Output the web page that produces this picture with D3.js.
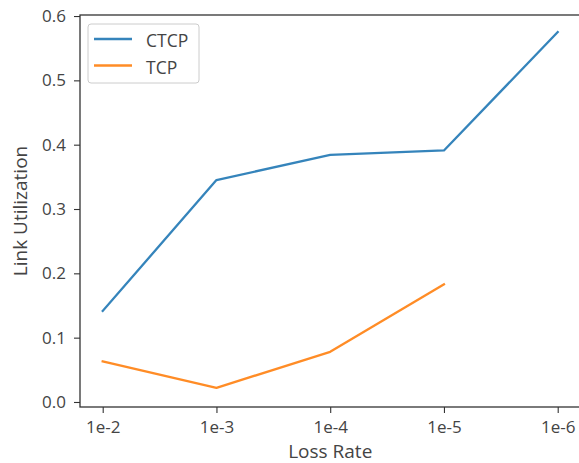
<!DOCTYPE html>
<html>
<head>
<meta charset="utf-8">
<script src="https://cdn.jsdelivr.net/npm/d3@7"></script>
<style>
  html, body { margin: 0; padding: 0; background: #fff; }
  svg { display: block; font-family: "Open Sans", sans-serif; }
</style>
</head>
<body>
<svg id="chart" width="579" height="463"></svg>
<script>
const categories = ["1e-2", "1e-3", "1e-4", "1e-5", "1e-6"];
const ctcpValues = [0.1415, 0.345, 0.384, 0.391, 0.575];
const tcpValues = [0.063, 0.022, 0.078, 0.183, null];
const yTicks = [0.0, 0.1, 0.2, 0.3, 0.4, 0.5, 0.6];
const seriesNames = ["CTCP", "TCP"];
const seriesColors = ["#1f77b4", "#ff7f0e"];

const svg = d3.select("#chart");
const mLeft = 80, mRight = 580.5, mTop = 15, mBottom = 407;
const tickFont = 17, labelFont = 19, legendFont = 17.5;
const fontFam = "Open Sans";

const x = d3.scalePoint().domain(categories).range([102.7, 557.7]);
const y = d3.scaleLinear().domain([-0.0078, 0.6016]).range([mBottom, mTop]);

// lines
const line = d3.line()
  .defined(d => d.v !== null)
  .x(d => x(d.c))
  .y(d => y(d.v));

const series = [ctcpValues, tcpValues];
series.forEach((vals, i) => {
  svg.append("path")
    .datum(categories.map((c, j) => ({c, v: vals[j]})))
    .attr("fill", "none")
    .attr("stroke", seriesColors[i])
    .attr("stroke-opacity", 0.9)
    .attr("stroke-width", 2.3)
    .attr("stroke-linejoin", "round")
    .attr("stroke-linecap", "square")
    .attr("d", line);
});

// axes
const yAxis = d3.axisLeft(y).tickValues(yTicks).tickFormat(d3.format(".1f")).tickSize(6).tickPadding(8);
const xAxis = d3.axisBottom(x).tickSize(6).tickPadding(7.5);

const gy = svg.append("g").attr("transform", `translate(${mLeft},0)`).call(yAxis);
const gx = svg.append("g").attr("transform", `translate(0,${mBottom})`).call(xAxis);
[gx, gy].forEach(g => {
  g.select(".domain").remove();
  g.selectAll(".tick line").attr("stroke", "#333").attr("stroke-width", 1.1);
  g.selectAll(".tick text").attr("fill", "#444").style("font-size", tickFont + "px").style("font-family", fontFam);
});

// spines
svg.append("rect")
  .attr("x", mLeft).attr("y", mTop)
  .attr("width", mRight - mLeft).attr("height", mBottom - mTop)
  .attr("fill", "none").attr("stroke", "#333").attr("stroke-width", 1.3);

// axis labels
svg.append("text")
  .attr("x", (mLeft + mRight) / 2).attr("y", 457.5)
  .attr("text-anchor", "middle").attr("fill", "#444")
  .style("font-size", labelFont + "px").style("font-family", fontFam)
  .text("Loss Rate");

svg.append("text")
  .attr("transform", `translate(26.5,${(mTop + mBottom) / 2}) rotate(-90)`)
  .attr("text-anchor", "middle").attr("fill", "#444")
  .style("font-size", labelFont + "px").style("font-family", fontFam)
  .text("Link Utilization");

// legend
const lg = svg.append("g");
lg.append("rect")
  .attr("x", 88).attr("y", 24).attr("width", 111).attr("height", 59)
  .attr("rx", 3).attr("fill", "#fff").attr("fill-opacity", 0.8)
  .attr("stroke", "#ccc").attr("stroke-width", 1);
seriesNames.forEach((n, i) => {
  const yy = 39 + i * 26.5;
  lg.append("line").attr("x1", 94).attr("x2", 132).attr("y1", yy).attr("y2", yy)
    .attr("stroke", seriesColors[i]).attr("stroke-opacity", 0.9).attr("stroke-width", 2.3);
  lg.append("text").attr("x", 146).attr("y", yy + 8)
    .attr("fill", "#444").style("font-size", legendFont + "px").style("font-family", fontFam).text(n);
});
</script>
</body>
</html>
